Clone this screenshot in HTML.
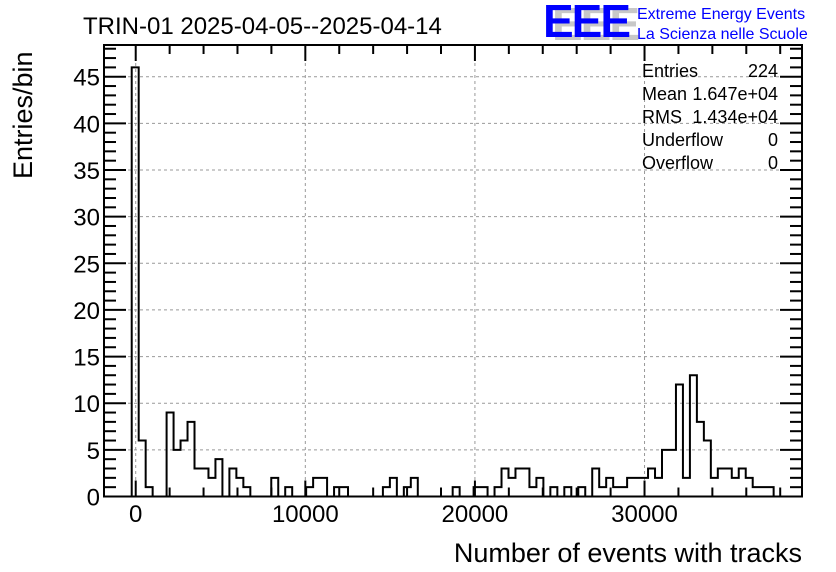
<!DOCTYPE html>
<html><head><meta charset="utf-8"><style>
html,body{margin:0;padding:0;background:#fff;}
svg{display:block;font-family:"Liberation Sans",Arial,sans-serif;}
</style></head><body>
<svg id="chart" width="836" height="572" viewBox="0 0 836 572">
<rect width="836" height="572" fill="#fff"/>
<g id="grid"></g>
<g id="hist"></g>
<g id="axes"></g>
<text x="83" y="34" font-size="24">TRIN-01 2025-04-05--2025-04-14</text>
<g>
<text x="552" y="40" font-size="46" font-weight="bold" fill="#c8c8c8" letter-spacing="-2">EEE</text>
<text x="543" y="37" font-size="46" font-weight="bold" fill="#0000ff" letter-spacing="-2">EEE</text>
<text x="637" y="19" font-size="16" fill="#0000ff">Extreme Energy Events</text>
<text x="637" y="39" font-size="16" fill="#0000ff">La Scienza nelle Scuole</text>
</g>
<g font-size="18">
<text x="642" y="77">Entries</text><text x="778" y="77" text-anchor="end">224</text>
<text x="642" y="100">Mean</text><text x="778" y="100" text-anchor="end">1.647e+04</text>
<text x="642" y="123">RMS</text><text x="778" y="123" text-anchor="end">1.434e+04</text>
<text x="642" y="146">Underflow</text><text x="778" y="146" text-anchor="end">0</text>
<text x="642" y="169">Overflow</text><text x="778" y="169" text-anchor="end">0</text>
</g>
<text x="802" y="562" font-size="27" text-anchor="end">Number of events with tracks</text>
<text transform="translate(32,179) rotate(-90)" font-size="27" text-anchor="start">Entries/bin</text>
</svg>
<script>
const counts = [46,6,1,0,0,9,5,6,8,3,3,2,4,0,3,2,1,0,0,0,2,0,1,0,0,1,2,2,0,1,1,0,0,0,0,0,1,2,0,1,2,0,0,0,0,0,1,0,0,1,1,0,1,3,2,3,3,1,2,0,1,0,1,0,1,0,3,1,2,1,1,2,2,2,3,2,5,5,12,2,13,8,6,2,3,3,2,3,2,1,1,1];
const binLow = -236;
const binWidth = 411.4;
const xTicks = [0,10000,20000,30000];
const yTicks = [0,5,10,15,20,25,30,35,40,45];
const L=104,R=802,T=45,B=496.5;
const xMin=-1870,xMax=39285,yMin=0,yMax=48.4;
function X(v){return L+(v-xMin)/(xMax-xMin)*(R-L);}
function Y(v){return B-(v-yMin)/(yMax-yMin)*(B-T);}
const NS="http://www.w3.org/2000/svg";
function mk(tag,attrs,parent){const e=document.createElementNS(NS,tag);for(const k in attrs)e.setAttribute(k,attrs[k]);parent.appendChild(e);return e;}
const grid=document.getElementById('grid'),axes=document.getElementById('axes'),hist=document.getElementById('hist');
xTicks.forEach(t=>{const l=mk('line',{x1:X(t),x2:X(t),y1:T,y2:B,stroke:'#999','stroke-dasharray':'3,3','stroke-width':1},grid);

});
yTicks.forEach(t=>{if(t===0)return;const l=mk('line',{x1:L,x2:R,y1:Y(t),y2:Y(t),stroke:'#999','stroke-dasharray':'3,3','stroke-width':1},grid);

});
let d='M'+X(binLow)+','+Y(0);
counts.forEach((c,i)=>{const x0=X(binLow+i*binWidth),x1=X(binLow+(i+1)*binWidth);d+=' L'+x0+','+Y(c)+' L'+x1+','+Y(c);});
d+=' L'+X(binLow+counts.length*binWidth)+','+Y(0);
const p=mk('path',{d:d,fill:'none',stroke:'#000','stroke-width':2},hist);


const f=mk('rect',{x:L,y:T,width:R-L,height:B-T,fill:'none',stroke:'#000','stroke-width':2},axes);


for(let v=-2000;v<=38000;v+=2000){const major=v%10000===0;const len=major?16:9;const x=X(v);if(x<L||x>R)continue;
mk('line',{x1:x,x2:x,y1:B,y2:B-len,stroke:'#000','stroke-width':2},axes);
mk('line',{x1:x,x2:x,y1:T,y2:T+len,stroke:'#000','stroke-width':2},axes);}
xTicks.forEach(t=>{const tx=mk('text',{x:X(t),y:522,'font-size':24,'text-anchor':'middle'},axes);tx.textContent=t;

});
for(let v=0;v<=48;v++){const major=v%5===0;const len=major?22:12;const y=Y(v);
mk('line',{x1:L,x2:L+len,y1:y,y2:y,stroke:'#000','stroke-width':2},axes);
mk('line',{x1:R,x2:R-len,y1:y,y2:y,stroke:'#000','stroke-width':2},axes);}
yTicks.forEach(t=>{const tx=mk('text',{x:100,y:Y(t)+9,'font-size':24,'text-anchor':'end'},axes);tx.textContent=t;

});
</script>
</body></html>
